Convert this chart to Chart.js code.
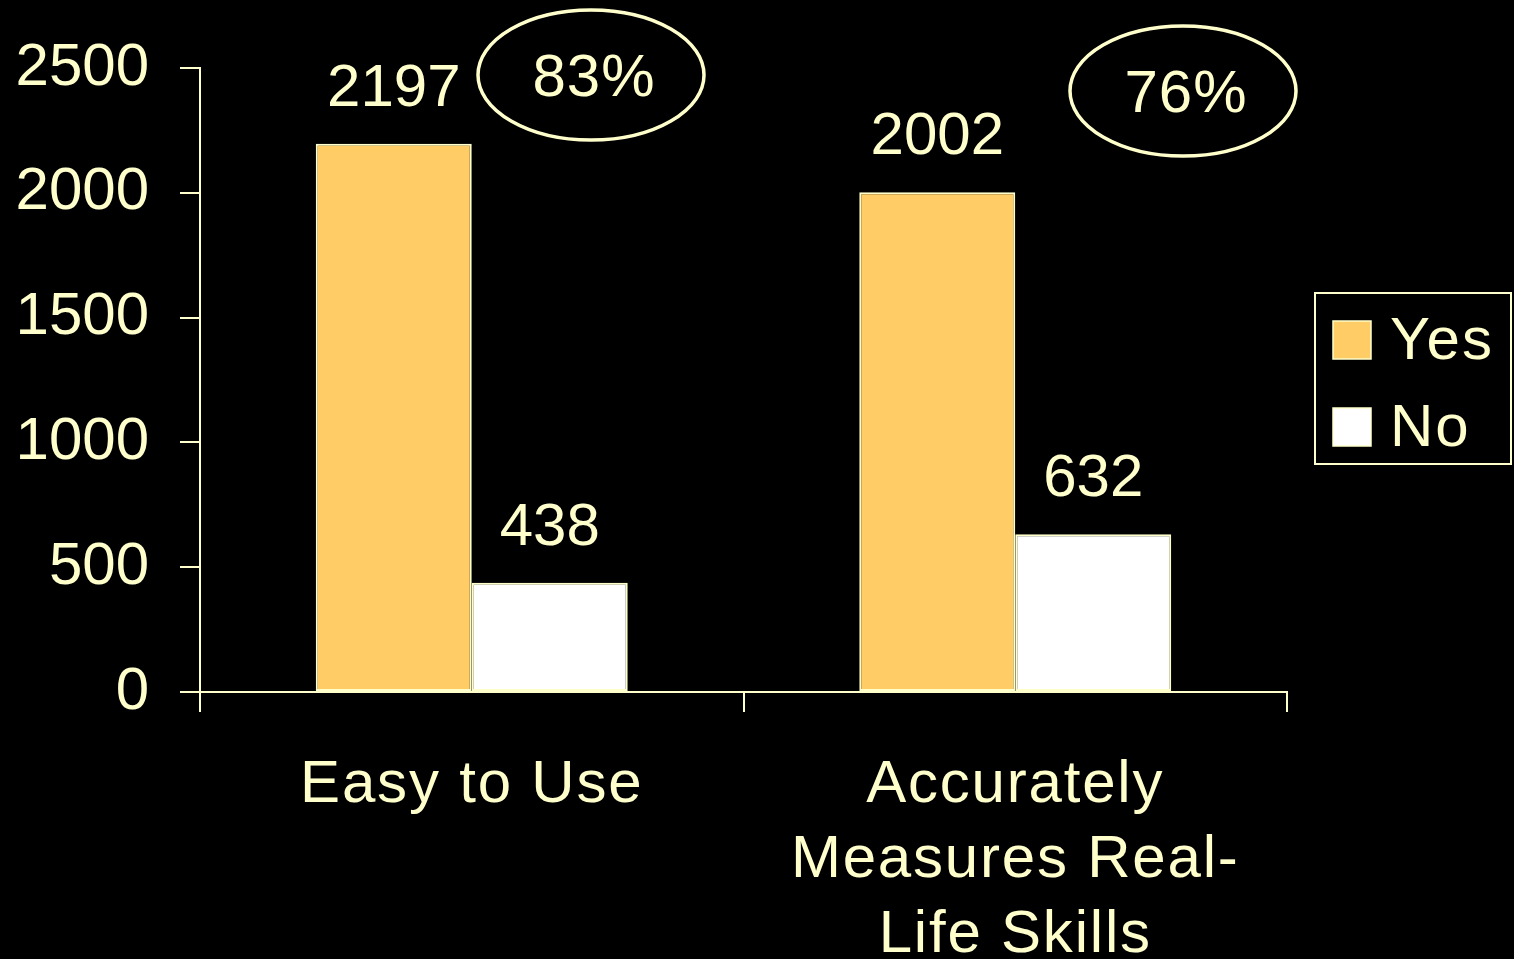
<!DOCTYPE html>
<html>
<head>
  <meta charset="UTF-8">
  <title>Easy to Use / Accurately Measures Real-Life Skills</title>
  <script src="https://cdn.jsdelivr.net/npm/chart.js"></script>
  <style>
    body {
      margin: 0;
      padding: 0;
      background: #000;
      overflow: hidden;
    }
    #chart-container {
      width: 1514px;
      height: 959px;
    }
  </style>
</head>
<body>
  <div id="chart-container">
    <canvas id="myChart"></canvas>
  </div>
  <script>
    const categories = [['Easy to Use'], ['Accurately', 'Measures Real-', 'Life Skills']];
    const seriesNames = ['Yes', 'No'];
    const yesValues = [2197, 2002];
    const noValues = [438, 632];
    const percentLabels = ['83%', '76%'];
    const yMax = 2500;
    const yStep = 500;

    const cream = '#FFFFCC';
    const gold = '#FFCC66';
    const white = '#FFFFFF';
    const FONT = '"Liberation Sans", Arial, sans-serif';

    // valeurs au-dessus des barres
    const valueLabels = {
      id: 'valueLabels',
      afterDatasetsDraw(chart) {
        const ctx = chart.ctx;
        ctx.save();
        ctx.fillStyle = cream;
        ctx.font = '60px ' + FONT;
        ctx.textAlign = 'center';
        ctx.textBaseline = 'alphabetic';
        chart.data.datasets.forEach((ds, i) => {
          chart.getDatasetMeta(i).data.forEach((bar, j) => {
            ctx.fillText(String(ds.data[j]), bar.x, bar.y - 38);
          });
        });
        ctx.restore();
        // les étiquettes de l'axe x (z: 1) sont dessinées juste après, un peu plus espacées
        ctx.letterSpacing = '1.8px';
      },
      afterDraw(chart) {
        chart.ctx.letterSpacing = '0px';
      }
    };

    // ellipses avec le pourcentage de "Yes"
    const percentOvals = {
      id: 'percentOvals',
      afterDraw(chart) {
        const ctx = chart.ctx;
        const a = chart.chartArea;
        const spots = [{ dx: 391, dy: 7 }, { dx: 983, dy: 23 }];
        ctx.save();
        ctx.letterSpacing = '1px';
        ctx.strokeStyle = cream;
        ctx.lineWidth = 3.5;
        ctx.fillStyle = cream;
        ctx.font = '60px ' + FONT;
        ctx.textAlign = 'center';
        ctx.textBaseline = 'middle';
        percentLabels.forEach((txt, i) => {
          const cx = a.left + spots[i].dx;
          const cy = a.top + spots[i].dy;
          ctx.beginPath();
          ctx.ellipse(cx, cy, 113, 65, 0, 0, Math.PI * 2);
          ctx.stroke();
          ctx.fillText(txt, cx + 3, cy + 4);
        });
        ctx.restore();
      }
    };

    // légende encadrée à droite
    const boxedLegend = {
      id: 'boxedLegend',
      afterDraw(chart) {
        const ctx = chart.ctx;
        const a = chart.chartArea;
        const left = a.right + 28;
        const top = 293;
        ctx.save();
        ctx.strokeStyle = cream;
        ctx.lineWidth = 2;
        ctx.strokeRect(left, top, 196, 171);
        ctx.font = '60px ' + FONT;
        ctx.letterSpacing = '2px';
        ctx.textBaseline = 'middle';
        ctx.textAlign = 'left';
        chart.data.datasets.forEach((ds, i) => {
          const cy = top + 47 + i * 87;
          ctx.fillStyle = ds.backgroundColor;
          ctx.fillRect(left + 18, cy - 19, 38, 38);
          ctx.strokeStyle = cream;
          ctx.lineWidth = 1.5;
          ctx.strokeRect(left + 18, cy - 19, 38, 38);
          ctx.fillStyle = cream;
          ctx.fillText(ds.label, left + 75, cy + 2);
        });
        ctx.restore();
      }
    };

    const ctx = document.getElementById('myChart').getContext('2d');
    window.myChart = new Chart(ctx, {
      type: 'bar',
      data: {
        labels: categories,
        datasets: [
          {
            label: seriesNames[0],
            data: yesValues,
            backgroundColor: gold,
            borderColor: cream,
            borderWidth: 2,
            borderSkipped: false
          },
          {
            label: seriesNames[1],
            data: noValues,
            backgroundColor: white,
            borderColor: cream,
            borderWidth: 2,
            borderSkipped: false
          }
        ]
      },
      options: {
        responsive: true,
        maintainAspectRatio: false,
        animation: false,
        layout: { padding: { top: 68, right: 227, left: 0, bottom: 0 } },
        datasets: {
          bar: { categoryPercentage: 0.574, barPercentage: 1 }
        },
        plugins: {
          legend: { display: false },
          tooltip: { enabled: false }
        },
        scales: {
          x: {
            offset: true,
            grid: {
              offset: true,
              drawOnChartArea: false,
              drawTicks: true,
              tickLength: 20,
              color: cream,
              lineWidth: 2
            },
            border: { display: true, color: cream, width: 2 },
            ticks: {
              z: 1,
              color: cream,
              padding: 36,
              maxRotation: 0,
              autoSkip: false,
              font: { family: FONT, size: 60, lineHeight: 1.25 }
            },
            afterFit(scale) { scale.height = 267; }
          },
          y: {
            min: 0,
            max: yMax,
            grid: {
              drawOnChartArea: false,
              drawTicks: true,
              tickLength: 20,
              color: cream,
              lineWidth: 2
            },
            border: { display: true, color: cream, width: 2 },
            ticks: {
              stepSize: yStep,
              color: cream,
              padding: 31,
              font: { family: FONT, size: 60 },
              callback: (value) => String(value)
            },
            afterFit(scale) { scale.width = 200; }
          }
        }
      },
      plugins: [valueLabels, percentOvals, boxedLegend]
    });
  </script>
</body>
</html>
